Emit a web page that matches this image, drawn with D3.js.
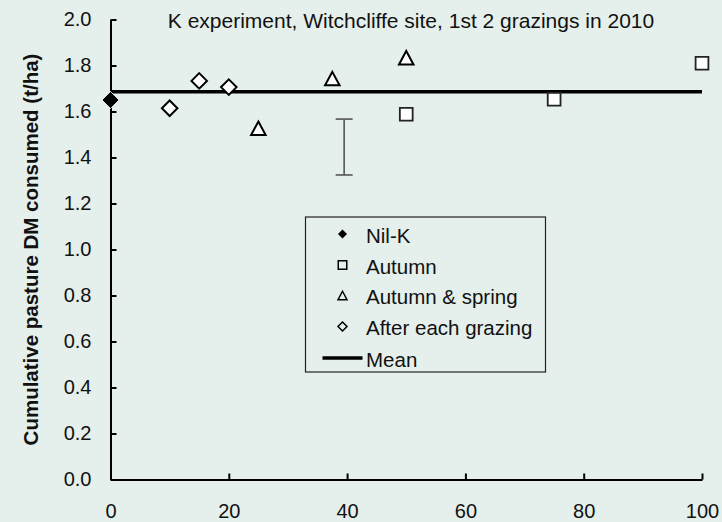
<!DOCTYPE html>
<html>
<head>
<meta charset="utf-8">
<script src="https://cdn.jsdelivr.net/npm/d3@7"></script>
<style>
  html, body { margin: 0; padding: 0; background: #e5efeb; }
  svg { display: block; font-family: "Liberation Sans", Arial, sans-serif; }
</style>
</head>
<body>
<svg id="chart" width="722" height="522"></svg>
<script>
// Treatment data: K application rate (x) vs cumulative pasture DM consumed (t/ha)
const nilKX = [0];
const nilKY = [1.65];
const autumnX = [50, 75, 100];
const autumnY = [1.588, 1.653, 1.81];
const autumnSpringX = [25, 37.5, 50];
const autumnSpringY = [1.527, 1.743, 1.834];
const afterEachX = [10, 15, 20];
const afterEachY = [1.614, 1.733, 1.706];
// Vertical error bar (LSD)
const errX = [39.5];
const errLow = [1.324];
const errHigh = [1.567];
const xTicks = [0, 20, 40, 60, 80, 100];
const yTicks = [0, 0.2, 0.4, 0.6, 0.8, 1.0, 1.2, 1.4, 1.6, 1.8, 2.0];
const legendLabels = ["Nil-K", "Autumn", "Autumn & spring", "After each grazing", "Mean"];
const titleText = "K experiment, Witchcliffe site, 1st 2 grazings in 2010";
const yTitle = "Cumulative pasture DM consumed (t/ha)";

const svg = d3.select("#chart");
const x = d3.scaleLinear().domain([0, 100]).range([110.5, 702]);
const y = d3.scaleLinear().domain([0, 2]).range([479.5, 19.5]);

// Axes
const yAxis = d3.axisLeft(y).tickValues(yTicks).tickFormat(d3.format(".1f"))
  .tickSizeInner(-6).tickSizeOuter(0).tickPadding(19);
const xAxis = d3.axisBottom(x).tickValues(xTicks).tickFormat(d3.format("d"))
  .tickSizeInner(-6).tickSizeOuter(0).tickPadding(24);

const gy = svg.append("g").attr("transform", `translate(${x(0)},0)`).call(yAxis);
const gx = svg.append("g").attr("transform", `translate(0,${y(0)})`).call(xAxis);
[gx, gy].forEach(g => {
  g.select(".domain").attr("stroke", "#000").attr("stroke-width", 2);
  g.selectAll(".tick line").attr("stroke", "#000").attr("stroke-width", 2);
  g.selectAll(".tick text").attr("fill", "#111").style("font-size", "20px")
    .style("font-family", "'Liberation Sans', Arial, sans-serif");
});

// Chart title
svg.append("text").attr("x", 411).attr("y", 27.5).attr("text-anchor", "middle")
  .style("font-size", "21px").attr("fill", "#111").text(titleText);

// Y axis title
svg.append("text")
  .attr("transform", `translate(38,${(y(0) + y(2)) / 2}) rotate(-90)`)
  .attr("text-anchor", "middle").style("font-size", "20.5px").style("font-weight", "bold")
  .attr("fill", "#111").text(yTitle);

// Mean line across all treatments
const allY = nilKY.concat(autumnY, autumnSpringY, afterEachY);
const meanY = d3.mean(allY);
svg.append("line").attr("x1", x(0)).attr("x2", x(100))
  .attr("y1", y(meanY)).attr("y2", y(meanY))
  .attr("stroke", "#000").attr("stroke-width", 3.6);

// Error bar
errX.forEach((ex, i) => {
  const g = svg.append("g").attr("stroke", "#555").attr("stroke-width", 1.6);
  g.append("line").attr("x1", x(ex)).attr("x2", x(ex)).attr("y1", y(errLow[i])).attr("y2", y(errHigh[i]));
  g.append("line").attr("x1", x(ex) - 8.5).attr("x2", x(ex) + 8.5).attr("y1", y(errLow[i])).attr("y2", y(errLow[i]));
  g.append("line").attr("x1", x(ex) - 8.5).attr("x2", x(ex) + 8.5).attr("y1", y(errHigh[i])).attr("y2", y(errHigh[i]));
});

// Marker shapes centred on (0,0)
function diamond(s) { const h = s / 2; return `M0,${-h}L${h},0L0,${h}L${-h},0Z`; }
function square(s) { const h = s / 2; return `M${-h},${-h}H${h}V${h}H${-h}Z`; }
function triangle(w, hgt) { return `M0,${-hgt / 2}L${w / 2},${hgt / 2}L${-w / 2},${hgt / 2}Z`; }

function plotSeries(xs, ys, path, fill, stroke, sw) {
  svg.append("g").selectAll("path").data(xs.map((d, i) => [d, ys[i]])).join("path")
    .attr("transform", d => `translate(${x(d[0])},${y(d[1])})`)
    .attr("d", path).attr("fill", fill).attr("stroke", stroke).attr("stroke-width", sw);
}
plotSeries(afterEachX, afterEachY, diamond(15.5), "#fff", "#000", 2);
plotSeries(autumnSpringX, autumnSpringY, triangle(14.5, 13.5), "#fff", "#000", 2);
plotSeries(autumnX, autumnY, square(12.8), "#fff", "#222", 1.8);
plotSeries(nilKX, nilKY, diamond(17), "#000", "#fff", 0.8);

// Legend
const lg = svg.append("g");
lg.append("rect").attr("x", 305.5).attr("y", 217).attr("width", 240).attr("height", 155)
  .attr("fill", "#e5efeb").attr("stroke", "#222").attr("stroke-width", 1.2);
const rowBase = [242.5, 273.5, 304, 335, 366.5];
const symX = 342.5;
const legendSyms = [
  { d: diamond(9), fill: "#000", stroke: "none", sw: 0 },
  { d: square(8.5), fill: "none", stroke: "#000", sw: 1.5 },
  { d: triangle(9, 8.5), fill: "none", stroke: "#000", sw: 1.5 },
  { d: diamond(9), fill: "none", stroke: "#000", sw: 1.5 }
];
legendLabels.forEach((lab, i) => {
  lg.append("text").attr("x", 366).attr("y", rowBase[i]).style("font-size", "20.5px")
    .attr("fill", "#111").text(lab);
  if (i < 4) {
    const s = legendSyms[i];
    lg.append("path").attr("transform", `translate(${symX},${rowBase[i] - 8.5})`)
      .attr("d", s.d).attr("fill", s.fill).attr("stroke", s.stroke).attr("stroke-width", s.sw);
  } else {
    lg.append("line").attr("x1", 322.5).attr("x2", 362.5)
      .attr("y1", rowBase[i] - 8.5).attr("y2", rowBase[i] - 8.5)
      .attr("stroke", "#000").attr("stroke-width", 3.6);
  }
});
</script>
</body>
</html>
